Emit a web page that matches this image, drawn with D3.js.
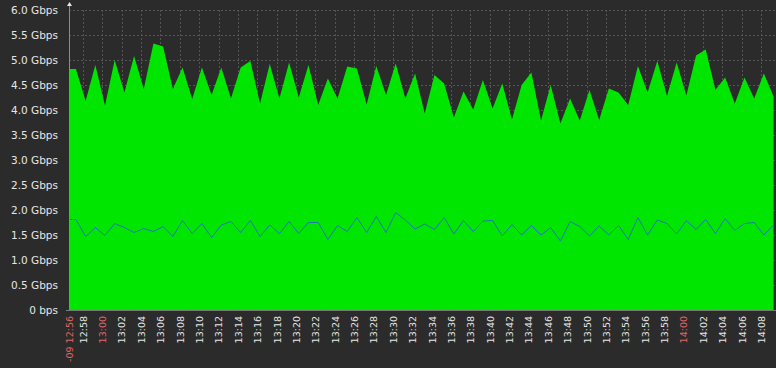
<!DOCTYPE html>
<html><head><meta charset="utf-8">
<script src="https://cdn.jsdelivr.net/npm/d3@7"></script>
<style>
html,body{margin:0;padding:0;background:#2b2b2b;}
svg{display:block;}
</style></head>
<body>
<svg id="chart" width="776" height="368"></svg>
<script>
// ---- data ----
const xStart = "12:56:34";
const xEnd = "14:09:32";
const firstPoint = "12:56:17"; // time of first sample, one sample per minute
const inboundGbps = [4.82,4.82,4.18,4.90,4.09,5.00,4.35,5.08,4.42,5.33,5.27,4.42,4.85,4.22,4.85,4.30,4.85,4.23,4.85,4.98,
  4.13,4.92,4.23,4.95,4.25,4.90,4.10,4.63,4.23,4.87,4.83,4.11,4.88,4.30,4.93,4.23,4.73,3.93,4.70,4.53,
  3.85,4.37,4.01,4.60,4.03,4.53,3.81,4.50,4.75,3.79,4.50,3.73,4.23,3.79,4.40,3.80,4.43,4.35,4.10,4.88,
  4.35,4.98,4.28,4.95,4.29,5.09,5.21,4.40,4.65,4.13,4.65,4.23,4.73,4.27];
const outboundGbps = [1.81,1.81,1.47,1.65,1.49,1.73,1.65,1.55,1.63,1.57,1.67,1.47,1.79,1.53,1.73,1.45,1.70,1.77,1.55,1.79,
  1.47,1.70,1.53,1.77,1.53,1.75,1.75,1.41,1.69,1.57,1.85,1.55,1.87,1.55,1.95,1.80,1.62,1.72,1.61,1.85,
  1.52,1.79,1.57,1.78,1.79,1.48,1.71,1.50,1.69,1.50,1.65,1.38,1.77,1.67,1.48,1.68,1.50,1.69,1.41,1.85,
  1.50,1.80,1.73,1.52,1.79,1.61,1.81,1.53,1.83,1.59,1.73,1.75,1.50,1.70];
const tickLabels = ["-09 12:56","12:58","13:00","13:02","13:04","13:06","13:08","13:10","13:12","13:14","13:16","13:18",
  "13:20","13:22","13:24","13:26","13:28","13:30","13:32","13:34","13:36","13:38","13:40","13:42","13:44","13:46",
  "13:48","13:50","13:52","13:54","13:56","13:58","14:00","14:02","14:04","14:06","14:08"];
const redTickLabels = ["-09 12:56","13:00","14:00"];
const yTickValues = [0,0.5,1.0,1.5,2.0,2.5,3.0,3.5,4.0,4.5,5.0,5.5,6.0];
const yTickLabels = ["0 bps","0.5 Gbps","1.0 Gbps","1.5 Gbps","2.0 Gbps","2.5 Gbps","3.0 Gbps","3.5 Gbps","4.0 Gbps","4.5 Gbps","5.0 Gbps","5.5 Gbps","6.0 Gbps"];

// ---- helpers ----
function toDate(hms){
  const p = hms.split(":").map(Number);
  return new Date(Date.UTC(2024,4,9,p[0],p[1],p[2]||0));
}
const t0 = toDate(firstPoint);
const pts = inboundGbps.map((v,i)=>({t:new Date(t0.getTime()+i*60000), inb:v, out:outboundGbps[i]}));

const margin = {left:69, top:10, right:0, bottom:58};
const W = 776, H = 368;
const svg = d3.select("#chart");

const x = d3.scaleUtc().domain([toDate(xStart), toDate(xEnd)]).range([margin.left, W - margin.right]);
const y = d3.scaleLinear().domain([0,6]).range([H - margin.bottom, margin.top]);

const tickTimes = tickLabels.map((l,i)=> i===0 ? toDate(xStart) : toDate(l.slice(-5)));
const labelOf = new Map(tickTimes.map((t,i)=>[+t, tickLabels[i]]));

// clip
svg.append("defs").append("clipPath").attr("id","plotclip")
  .append("rect").attr("x",margin.left).attr("y",margin.top)
  .attr("width",W-margin.left-margin.right).attr("height",H-margin.bottom-margin.top);

// grid
const grid = svg.append("g").attr("stroke","#555555").attr("stroke-dasharray","2,2").attr("stroke-width",1);
grid.selectAll("line.h").data(yTickValues.filter(v=>v>0)).join("line")
  .attr("x1",margin.left).attr("x2",W).attr("y1",d=>Math.round(y(d))+0.5).attr("y2",d=>Math.round(y(d))+0.5);
grid.selectAll("line.v").data(tickTimes.slice(1)).join("line")
  .attr("x1",d=>Math.round(x(d))+0.5).attr("x2",d=>Math.round(x(d))+0.5)
  .attr("y1",margin.top).attr("y2",y(0));

const plot = svg.append("g").attr("clip-path","url(#plotclip)");
plot.append("path").datum(pts)
  .attr("fill","#00e600")
  .attr("d", d3.area().x(d=>x(d.t)).y0(y(0)).y1(d=>y(d.inb)));
plot.append("path").datum(pts)
  .attr("fill","none").attr("stroke","#1e78b4").attr("stroke-width",1)
  .attr("d", d3.line().x(d=>x(d.t)).y(d=>y(d.out)));

// y axis
const yAxis = svg.append("g").attr("transform",`translate(${margin.left},0)`)
  .call(d3.axisLeft(y).tickValues(yTickValues).tickFormat((d,i)=>yTickLabels[i]).tickSize(0).tickPadding(11));
yAxis.select(".domain").remove();
yAxis.selectAll("text").attr("fill","#e6e6e6").style("font-family","DejaVu Sans").style("font-size","10.5px");
svg.append("line").attr("x1",margin.left+0.5).attr("x2",margin.left+0.5).attr("y1",5).attr("y2",y(0)+1)
  .attr("stroke","#8c8c8c");
svg.append("path").attr("d",`M${margin.left-2},6 L${margin.left+0.5+2.5},6 L${margin.left+0.5},2 Z`).attr("fill","#e6e6e6");

// x axis
const xAxis = svg.append("g").attr("transform",`translate(0,${y(0)})`)
  .call(d3.axisBottom(x).tickValues(tickTimes).tickFormat(d=>labelOf.get(+d)).tickSize(0));
xAxis.select(".domain").remove();
xAxis.selectAll("text")
  .attr("transform","rotate(-90)")
  .attr("text-anchor","end")
  .attr("x",-6).attr("y",0).attr("dy","0.35em")
  .style("font-family","DejaVu Sans").style("font-size","9.5px")
  .attr("fill",d=> redTickLabels.includes(labelOf.get(+d)) ? "#e06666" : "#e6e6e6");
svg.append("line").attr("x1",margin.left-3).attr("x2",W).attr("y1",y(0)+0.5).attr("y2",y(0)+0.5)
  .attr("stroke","#7a7a7a");
</script>
</body></html>
